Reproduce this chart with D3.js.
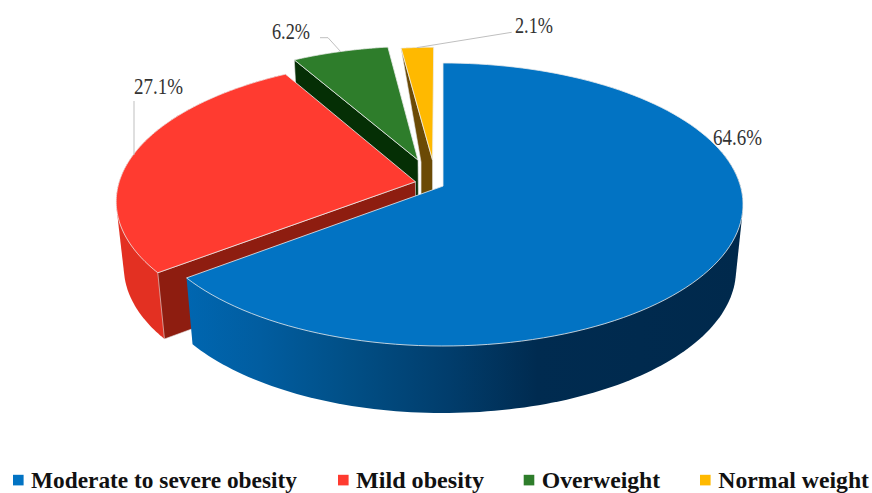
<!DOCTYPE html>
<html><head><meta charset="utf-8">
<style>html,body{margin:0;padding:0;background:#fff}svg{display:block}</style>
<script src="https://cdn.jsdelivr.net/npm/d3@7"></script></head>
<body><svg id="c" width="872" height="493"></svg>
<script>
const categories = ["Moderate to severe obesity","Mild obesity","Overweight","Normal weight"];
const values = [64.6,27.1,6.2,2.1];
const valueLabels = ["64.6%","27.1%","6.2%","2.1%"];
const topColors = ["#0273C3","#FF3B30","#2E7D2B","#FFB900"];
const rimColors = ["url(#blueRim)","#E33022","#052F05","#6B4A05"];
const edgeColors = ["#00305A","#8E1D10","#052F05","#6B4A05"];

// Projection of the tilted pie: a disc mapped through a homography
const topEllipse = {cx:443,cy:204.5,rx:300,ry:141.5};
const botEllipse = {cx:443,cy:270,rx:293,ry:143};
const k = -0.13;
const project = (e,u,v)=>{const d=1+k*v;return [e.cx+e.rx*Math.sqrt(1-k*k)*u/d, e.cy+e.ry*(v+k)/d];};

// Explosion of each slice in disc coordinates
const explode = [
 {du:0,dv:0,r:1},
 {du:-0.093,dv:-0.0317,r:1},
 {du:-0.086,dv:-0.192,r:0.965},
 {du:-0.036,dv:-0.192,r:0.955}
];
const wallInset = [0,0,0,11.5];
const rimFrom = Math.PI*0.42; // the rim is only seen on the near side of the blue slice

const svg = d3.select("#c");
const color = d3.scaleOrdinal(categories,topColors);
const rim = d3.scaleOrdinal(categories,rimColors);
const edge = d3.scaleOrdinal(categories,edgeColors);

const grad = svg.append("defs").append("linearGradient").attr("id","blueRim")
  .attr("gradientUnits","userSpaceOnUse").attr("x1",188).attr("x2",743).attr("y1",0).attr("y2",0);
[[0,"#0066B0"],[0.13,"#015DA0"],[0.29,"#014F86"],[0.47,"#013D6C"],[0.63,"#002B50"],[1,"#00294C"]]
 .forEach(s=>grad.append("stop").attr("offset",s[0]).attr("stop-color",s[1]));

const pie = d3.pie().sort(null).value(d=>d)(values);
const line = d3.line();
const pt = (e,ex,a)=>project(e,ex.du+ex.r*Math.sin(a),ex.dv-ex.r*Math.cos(a));
const apex = (e,ex)=>project(e,ex.du,ex.dv);
const arcPts = (e,ex,a0,a1)=>d3.range(0,121).map(i=>pt(e,ex,a0+(a1-a0)*i/120));

[3,2,1,0].forEach(i=>{
  const s=pie[i], ex=explode[i], name=categories[i];
  const g=svg.append("g");
  // outer rim: hull of the visible top and bottom arcs, so the silhouette stays tangent
  if(i<2){
    const a0=Math.max(s.startAngle,rimFrom);
    const hull=d3.polygonHull(arcPts(topEllipse,ex,a0,s.endAngle).concat(arcPts(botEllipse,ex,a0,s.endAngle)));
    g.append("path").attr("d",line(hull)+"Z").attr("fill",rim(name));
  }
  // radial wall along the start edge
  if(i>0){
    const T=pt(topEllipse,ex,s.startAngle),A=apex(topEllipse,ex),B=apex(botEllipse,ex),Bo=pt(botEllipse,ex,s.startAngle);
    const inset=wallInset[i];
    const poly=inset?[T,A,[A[0],B[1]],[A[0]-inset,B[1]],[A[0]-inset,A[1]+2]]:[T,A,B,Bo];
    g.append("path").attr("d",line(poly)+"Z").attr("fill",edge(name))
      .attr("stroke","#E4E4E4").attr("stroke-width",0.6);
  }
  // top face
  const face=[apex(topEllipse,ex)].concat(arcPts(topEllipse,ex,s.startAngle,s.endAngle));
  g.append("path").attr("d",line(face)+"Z").attr("fill",color(name))
    .attr("stroke","#EDEDED").attr("stroke-width",0.8).attr("stroke-linejoin","round");
});

// Leader lines
const leaders=[
 null,
 [[134,101],[134,155]],
 [[320,37.7],[328,37.7],[340.7,51.7]],
 [[416.7,47.7],[511.7,32.3]]
];
leaders.forEach(l=>{ if(l) svg.append("path").attr("d",line(l)).attr("fill","none").attr("stroke","#BFBFBF").attr("stroke-width",1); });

// Data labels
const labelPos=[[713,145.3,49],[134,94.3,49],[272,39,38],[515,32.7,38]];
valueLabels.forEach((t,i)=>{
  svg.append("text").attr("x",labelPos[i][0]).attr("y",labelPos[i][1])
    .attr("textLength",labelPos[i][2]).attr("lengthAdjust","spacingAndGlyphs")
    .attr("font-family","'Liberation Serif',serif").attr("font-size",23).attr("fill","#333").text(t);
});

// Legend
const legendPos=[[13,31,266],[338,356,128],[523.7,541.7,118.5],[700,718.3,150.7]];
categories.forEach((c,i)=>{
  const p=legendPos[i];
  svg.append("rect").attr("x",p[0]).attr("y",474.8).attr("width",10.6).attr("height",10.6).attr("fill",color(c));
  svg.append("text").attr("x",p[1]).attr("y",488.3).attr("textLength",p[2]).attr("lengthAdjust","spacingAndGlyphs")
    .attr("font-family","'Liberation Serif',serif").attr("font-weight","bold").attr("font-size",23).attr("fill","#111").text(c);
});
</script></body></html>
